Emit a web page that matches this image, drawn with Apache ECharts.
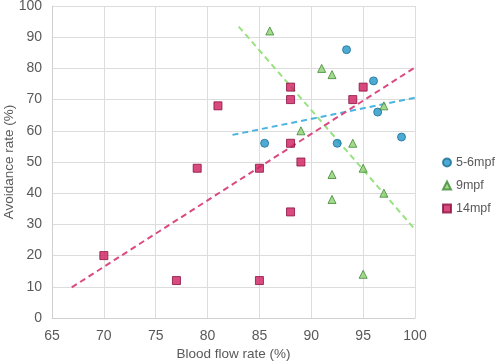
<!DOCTYPE html>
<html>
<head>
<meta charset="utf-8">
<script src="https://cdn.jsdelivr.net/npm/echarts@6/dist/echarts.min.js"></script>
<style>html,body{margin:0;padding:0;background:#fff;}#c{width:500px;height:363px;}</style>
</head>
<body>
<div id="c"></div>
<script>
// 5-6mpf (blood flow %, avoidance %)
const s56 = [[85.5,56],[93.4,86],[96.0,76],[96.4,66],[98.7,58],[92.5,56]];
// 9mpf
const s9 = [[86,92],[91,80],[92,78],[97,68],[89,60],[94,56],[92,46],[95,48],[92,38],[97,40],[95,14]];
// 14mpf
const s14 = [[88,74],[88,70],[88,56],[88,34],[81,68],[79,48],[85,48],[89,50],[94,70],[95,74],[70,20],[77,12],[85,12]];
// trend line endpoints
const t56 = [[82.4,58.7],[100,70.6]];
const t9 = [[83.0,93.4],[100,28.4]];
const t14 = [[66.9,9.8],[100,80.3]];
const xTicks = [65,70,75,80,85,90,95,100];
const yTicks = [0,10,20,30,40,50,60,70,80,90,100];
const names = ['5-6mpf','9mpf','14mpf'];

const font = 'Liberation Sans, Arial, sans-serif';
const chart = echarts.init(document.getElementById('c'));
const gridC = '#dcdcdc';
function trend(data, color) {
  return {type:'line', data:data, symbol:'none', silent:true, z:1,
    lineStyle:{color:color, width:2, type:[6,4]}};
}
chart.setOption({
  animation:false,
  textStyle:{fontFamily:font},
  grid:{left:52, right:85, top:6, bottom:45, containLabel:false, outerBoundsMode:'none'},
  legend:{
    orient:'vertical', left:437, top:151, itemGap:10, itemWidth:8, itemHeight:8,
    textStyle:{color:'#595959', fontSize:12.5, fontFamily:font},
    data:names
  },
  xAxis:{
    type:'value', min:xTicks[0], max:xTicks[xTicks.length-1], interval:5,
    name:'Blood flow rate (%)', nameLocation:'middle', nameGap:29, nameMoveOverlap:false,
    nameTextStyle:{color:'#595959', fontSize:13.5},
    axisLine:{show:true, lineStyle:{color:'#d0d0d0'}},
    axisTick:{show:false},
    axisLabel:{color:'#595959', fontSize:14, margin:11},
    splitLine:{show:true, lineStyle:{color:gridC}}
  },
  yAxis:{
    type:'value', min:yTicks[0], max:yTicks[yTicks.length-1], interval:10,
    name:'Avoidance rate (%)', nameLocation:'middle', nameGap:36, nameMoveOverlap:false,
    nameTextStyle:{color:'#595959', fontSize:13.5},
    axisLine:{show:true, lineStyle:{color:'#d0d0d0'}},
    axisTick:{show:false},
    axisLabel:{color:'#595959', fontSize:14, margin:10},
    splitLine:{show:true, lineStyle:{color:gridC}}
  },
  series:[
    trend(t56,'#4cb4e0'),
    trend(t9,'#98e282'),
    trend(t14,'#d94a80'),
    {name:names[0], type:'scatter', data:s56, symbol:'circle', symbolSize:8, z:3,
      itemStyle:{color:'#2196c8', borderColor:'#1c6f96', borderWidth:1}},
    {name:names[1], type:'scatter', data:s9, symbol:'triangle', symbolSize:8, z:3,
      itemStyle:{color:'#8fd071', borderColor:'#3d8a34', borderWidth:1}},
    {name:names[2], type:'scatter', data:s14, symbol:'rect', symbolSize:8, z:3,
      itemStyle:{color:'#d01e5e', borderColor:'#8a1040', borderWidth:1}}
  ]
});
</script>
</body>
</html>
